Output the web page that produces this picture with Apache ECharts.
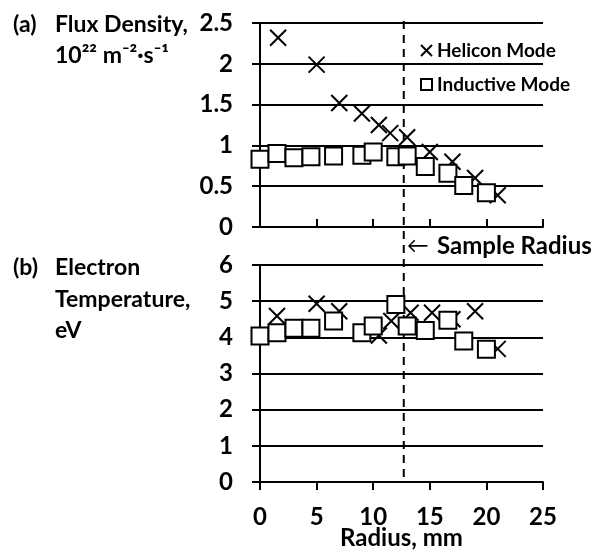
<!DOCTYPE html>
<html>
<head>
<meta charset="utf-8">
<script src="https://cdn.jsdelivr.net/npm/echarts@6/dist/echarts.min.js"></script>
<style>
  html, body { margin: 0; padding: 0; background: #fff; }
  #main { width: 606px; height: 550px; }
</style>
</head>
<body>
<div id="main"></div>
<script>
// values (radius in mm)
const fluxHelRadius = [1.6, 5, 7, 9, 10.5, 11.5, 13, 15, 17, 19, 21];
const fluxHelicon = [2.32, 1.99, 1.52, 1.39, 1.25, 1.15, 1.1, 0.92, 0.8, 0.6, 0.39];

const indRadius = [0, 1.5, 3, 4.5, 6.5, 9, 10, 12, 13, 14.6, 16.6, 18, 20];
const fluxInductive = [0.83, 0.9, 0.85, 0.86, 0.87, 0.88, 0.92, 0.86, 0.87, 0.74, 0.66, 0.51, 0.42];

const tempHelRadius = [1.5, 5, 7, 10.5, 11.6, 13.3, 15.2, 17, 19, 21];
const tempHelicon = [4.59, 4.93, 4.72, 4.05, 4.45, 4.68, 4.68, 4.5, 4.72, 3.68];
const tempInductive = [4.04, 4.13, 4.25, 4.25, 4.45, 4.13, 4.31, 4.91, 4.31, 4.19, 4.47, 3.9, 3.67];

const sampleRadius = 12.7;

const FONT = "Lato, 'Open Sans', sans-serif";
const crossPath = "path://M0,0L10,10M10,0L0,10";

function pairs(xs, ys) {
  return xs.map(function (x, i) { return [x, ys[i]]; });
}

let chart = echarts.init(document.getElementById("main"));

const axisText = { color: "#000", fontFamily: FONT, fontWeight: "bold", fontSize: 24 };
const blackLine = { lineStyle: { color: "#000", width: 2 } };
const crossStyle = { color: "transparent", borderColor: "#000", borderWidth: 2, opacity: 1 };
const boxStyle = { color: "#fff", borderColor: "#000", borderWidth: 2, opacity: 1 };

let option = {
  animation: false,
  backgroundColor: "#fff",
  grid: [
    { left: 260, width: 283, top: 23, height: 204, outerBoundsMode: "none" },
    { left: 260, width: 283, top: 265, height: 217, outerBoundsMode: "none" }
  ],
  legend: {
    left: 415,
    top: 36,
    orient: "vertical",
    itemWidth: 11,
    itemHeight: 11,
    itemGap: 15,
    textStyle: { color: "#000", fontFamily: FONT, fontWeight: "bold", fontSize: 19 },
    data: ["Helicon Mode", "Inductive Mode"]
  },
  xAxis: [
    {
      gridIndex: 0, type: "value", min: 0, max: 25, interval: 5,
      axisLine: blackLine, axisTick: { inside: true, length: 8, lineStyle: { color: "#000", width: 2 } },
      axisLabel: { show: false }, splitLine: { show: false }
    },
    {
      gridIndex: 1, type: "value", min: 0, max: 25, interval: 5,
      axisLine: blackLine, axisTick: { length: 8, lineStyle: { color: "#000", width: 2 } },
      axisLabel: Object.assign({ margin: 23 }, axisText),
      splitLine: { show: false },
      name: "Radius, mm", nameLocation: "middle", nameGap: 44, nameMoveOverlap: false,
      nameTextStyle: axisText
    }
  ],
  yAxis: [
    {
      gridIndex: 0, type: "value", min: 0, max: 2.5, interval: 0.5,
      axisLine: { show: true, lineStyle: { color: "#000", width: 2 } },
      axisTick: { show: true, length: 8, lineStyle: { color: "#000", width: 2 } },
      axisLabel: Object.assign({ margin: 27 }, axisText),
      splitLine: blackLine
    },
    {
      gridIndex: 1, type: "value", min: 0, max: 6, interval: 1,
      axisLine: { show: true, lineStyle: { color: "#000", width: 2 } },
      axisTick: { show: true, length: 8, lineStyle: { color: "#000", width: 2 } },
      axisLabel: Object.assign({ margin: 27 }, axisText),
      splitLine: blackLine
    }
  ],
  series: [
    {
      name: "Helicon Mode", type: "scatter", xAxisIndex: 0, yAxisIndex: 0,
      symbol: crossPath, symbolSize: 16, itemStyle: crossStyle,
      data: pairs(fluxHelRadius, fluxHelicon)
    },
    {
      name: "Inductive Mode", type: "scatter", xAxisIndex: 0, yAxisIndex: 0,
      symbol: "rect", symbolSize: 17, itemStyle: boxStyle,
      data: pairs(indRadius, fluxInductive)
    },
    {
      name: "Helicon Mode", type: "scatter", xAxisIndex: 1, yAxisIndex: 1,
      symbol: crossPath, symbolSize: 16, itemStyle: crossStyle,
      data: pairs(tempHelRadius, tempHelicon)
    },
    {
      name: "Inductive Mode", type: "scatter", xAxisIndex: 1, yAxisIndex: 1,
      symbol: "rect", symbolSize: 17, itemStyle: boxStyle,
      data: pairs(indRadius, tempInductive)
    }
  ]
};

chart.setOption(option);

// dashed sample-radius line runs through both panels
let xs = chart.convertToPixel({ xAxisIndex: 0 }, sampleRadius);
let yTop = chart.convertToPixel({ yAxisIndex: 0 }, 2.5) - 2;
let yBot = chart.convertToPixel({ yAxisIndex: 1 }, 0) - 2;

function label(x, y, text, size, weight) {
  return {
    type: "text", x: x, y: y,
    style: {
      text: text, fill: "#000", verticalAlign: "middle",
      font: (weight || "bold") + " " + (size || 23) + "px " + FONT
    }
  };
}

chart.setOption({
  graphic: [
    {
      type: "line", z: 1,
      shape: { x1: xs, y1: yTop, x2: xs, y2: yBot },
      style: { stroke: "#000", lineWidth: 2, lineDash: [8, 6] }
    },
    label(xs + 3, 246, "\u2190", 22, "normal"),
    label(437, 246, "Sample Radius", 24),
    label(13, 25, "(a)"),
    label(55, 25, "Flux Density,"),
    label(55, 56, "10\u00b2\u00b2 m\u207b\u00b2\u00b7s\u207b\u00b9"),
    label(13, 268, "(b)"),
    label(55, 268, "Electron"),
    label(55, 300, "Temperature,"),
    label(55, 331, "eV")
  ]
});
</script>
</body>
</html>
